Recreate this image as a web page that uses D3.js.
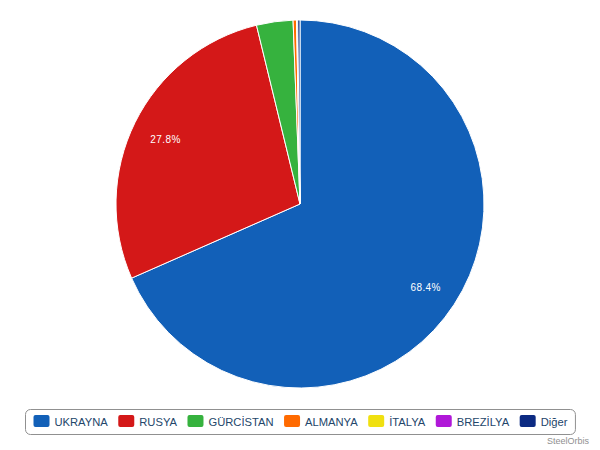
<!DOCTYPE html>
<html><head><meta charset="utf-8">
<script src="https://cdn.jsdelivr.net/npm/d3@7"></script>
<style>body{margin:0;background:#fff}svg{display:block}</style>
</head><body>
<svg id="c" width="600" height="450"></svg>
<script>
const categories = ["UKRAYNA","RUSYA","GÜRCİSTAN","ALMANYA","İTALYA","BREZİLYA","Diğer"];
const values = [68.4, 27.8, 3.2, 0.3, 0.05, 0.05, 0.2];
const colors = ["#1260b8","#d41818","#36b23e","#ff6a00","#f0e010","#b018d8","#0c2a82"];
const labelThreshold = 5;
const credit = "SteelOrbis";

const svg = d3.select("#c");
const W = 600, H = 450;
const cx = 300, cy = 204, R = 184;
const fontFam = "'Liberation Sans', Arial, sans-serif";

const pie = d3.pie().sort(null).value(d => d)(values);
const arc = d3.arc().innerRadius(0).outerRadius(R);
const labelArc = d3.arc().innerRadius(R - 34).outerRadius(R - 34);
const g = svg.append("g").attr("transform", `translate(${cx},${cy})`);
g.selectAll("path").data(pie).join("path")
  .attr("d", arc).attr("fill", (d,i) => colors[i])
  .attr("stroke", "#fff").attr("stroke-width", 1).attr("stroke-linejoin","round");
g.selectAll("text").data(pie.filter(d => d.data >= labelThreshold)).join("text")
  .attr("transform", d => `translate(${labelArc.centroid(d)})`)
  .attr("text-anchor", "middle").attr("dy", "0.5em")
  .attr("fill", "#fff").attr("font-family", fontFam).attr("font-size", 10)
  .attr("letter-spacing", 0.4)
  .text(d => d3.format(".1f")(d.data) + "%");

// legend
const lg = svg.append("g");
const items = lg.selectAll("g.it").data(categories).join("g").attr("class","it");
items.append("rect").attr("width", 16).attr("height", 12).attr("rx", 2).attr("fill", (d,i) => colors[i]);
items.append("text").attr("x", 21).attr("y", 11)
  .attr("font-family", fontFam).attr("font-size", 11.2).attr("fill", "#23466a").text(d => d);
const gap = 10.5;
const offsets = [];
let x = 0;
items.each(function(){
  const w = d3.select(this).select("text").node().getComputedTextLength();
  offsets.push(x);
  x += 21 + w + gap;
});
const totalW = x - gap;
const pad = 8;
const boxW = totalW + 2*pad;
const boxX = Math.round(W/2 - boxW/2) + 0.5;
lg.insert("rect", ":first-child").attr("x", boxX).attr("y", 409.5)
  .attr("width", boxW).attr("height", 25).attr("rx", 5)
  .attr("fill", "none").attr("stroke", "#909090").attr("stroke-width", 1);
items.attr("transform", (d,i) => `translate(${boxX + pad + offsets[i]},415)`);

svg.append("text").attr("x", 589).attr("y", 444).attr("text-anchor", "end")
  .attr("font-family", fontFam).attr("font-size", 9).attr("fill", "#909090").text(credit);
</script>
</body></html>
